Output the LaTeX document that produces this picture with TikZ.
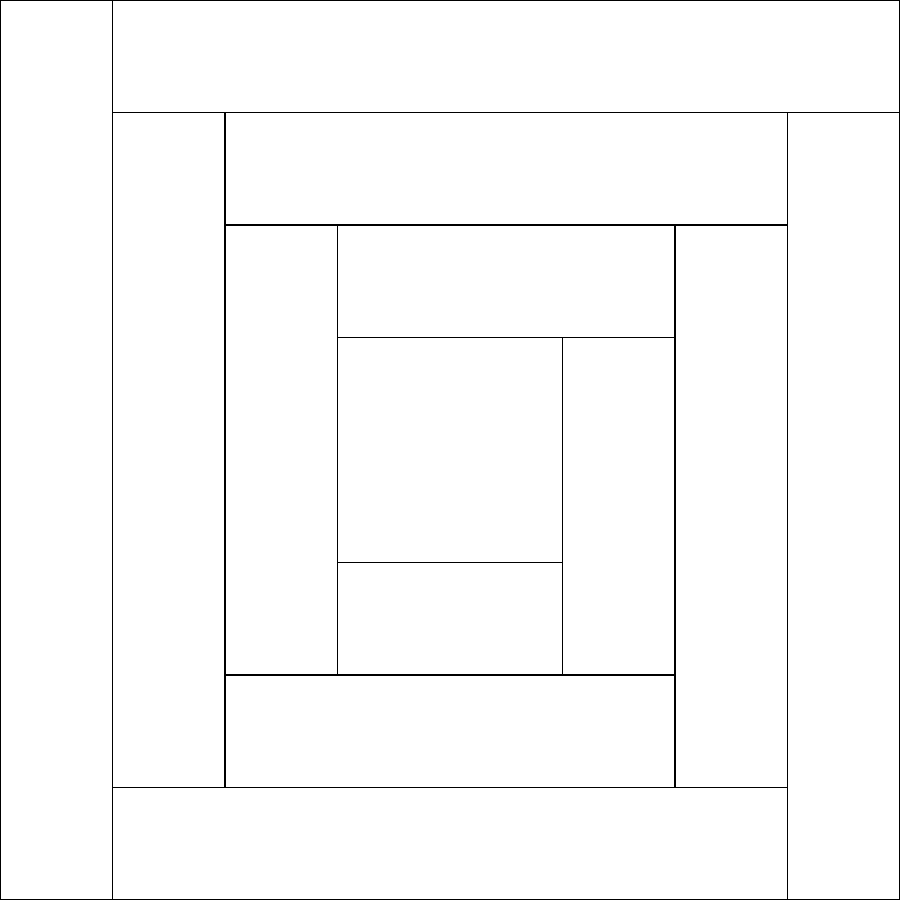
\documentclass[tikz,border=0pt]{standalone}
\begin{document}
\begin{tikzpicture}[x=1cm,y=-1cm,patch/.style={draw=black,line width=0.3pt,fill=white}]
\useasboundingbox (0,0) rectangle (8,8);
\fill[white] (0,0) rectangle (8,8);
% outer round
\draw[patch] (0,0) rectangle (1,8);
\draw[patch] (1,0) rectangle (8,1);
\draw[patch] (7,1) rectangle (8,8);
\draw[patch] (1,7) rectangle (7,8);
% second round
\draw[patch] (1,1) rectangle (2,7);
\draw[patch] (2,1) rectangle (7,2);
\draw[patch] (6,2) rectangle (7,7);
\draw[patch] (2,6) rectangle (6,7);
% third round
\draw[patch] (2,2) rectangle (3,6);
\draw[patch] (3,2) rectangle (6,3);
\draw[patch] (5,3) rectangle (6,6);
\draw[patch] (3,5) rectangle (5,6);
% centre
\draw[patch] (3,3) rectangle (5,5);
% frame
\draw[line width=0.3pt] (0.005,0.005) rectangle (7.995,7.995);
\end{tikzpicture}
\end{document}
